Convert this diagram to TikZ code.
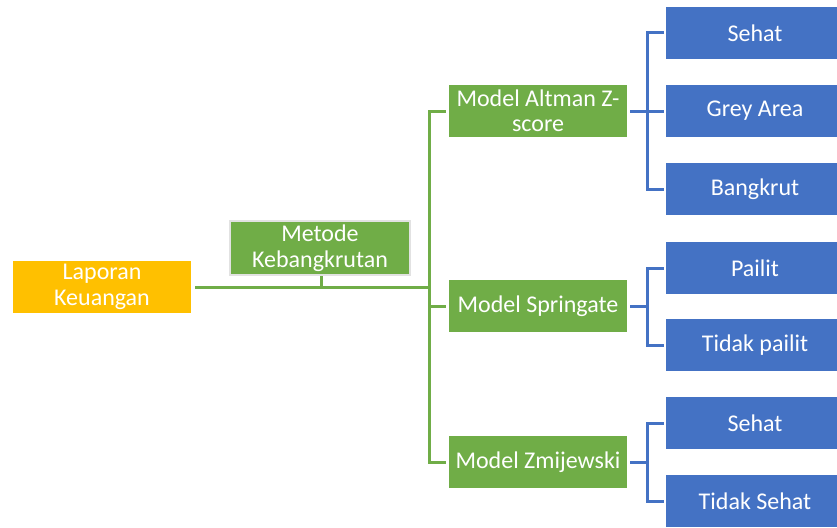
\documentclass[tikz,border=0pt]{standalone}
\usepackage{fontspec}
\setmainfont{Carlito}
\definecolor{orangebox}{HTML}{FFC000}
\definecolor{greenbox}{HTML}{70AD47}
\definecolor{bluebox}{HTML}{4472C4}
\definecolor{paleedge}{HTML}{E2E2E2}
\begin{document}
\begin{tikzpicture}[x=1pt,y=-1pt,
  box/.style={rectangle,inner sep=0pt,minimum width=178pt,minimum height=52pt,
    text=white,align=center,font=\fontsize{24}{25.5}\selectfont},
  rootbox/.style={box,fill=orangebox},
  methodbox/.style={box,fill=greenbox,draw=paleedge,line width=2pt,minimum width=180pt,minimum height=54pt},
  modelbox/.style={box,fill=greenbox},
  resultbox/.style={box,fill=bluebox},
  gline/.style={draw=greenbox,line width=3pt},
  bline/.style={draw=bluebox,line width=3pt}]
\useasboundingbox (0,0) rectangle (837,527);

% boxes
\node[rootbox]   (lap)    at (102,287) {Laporan\\Keuangan};
\node[methodbox] (metode) at (320,248) {Metode\\Kebangkrutan};
\node[modelbox]  (altman) at (538,111) {Model Altman Z-\\score};
\node[modelbox]  (spring) at (538,306) {Model Springate};
\node[modelbox]  (zmij)   at (538,462) {Model Zmijewski};

\node[resultbox] (a1) at (755,33)  {Sehat};
\node[resultbox] (a2) at (755,111) {Grey Area};
\node[resultbox] (a3) at (755,189) {Bangkrut};
\node[resultbox] (s1) at (755,268) {Pailit};
\node[resultbox] (s2) at (755,345) {Tidak pailit};
\node[resultbox] (z1) at (755,423) {Sehat};
\node[resultbox] (z2) at (755,501) {Tidak Sehat};

% green trunk
\coordinate (trunk) at (429,287);
\coordinate (tick)  at (321,287);
\draw[gline] ([xshift=4pt]lap.east) -- (trunk);
\draw[gline] (metode.south -| tick) -- (tick);
\draw[gline] (trunk) |- ([xshift=-3pt]altman.west);
\draw[gline] (trunk) |- ([xshift=-3pt]spring.west);
\draw[gline] (trunk) |- ([xshift=-3pt]zmij.west);

% blue branches
\coordinate (ba) at (647,111);
\coordinate (bs) at (647,306);
\coordinate (bz) at (647,462);
\draw[bline] ([xshift=3pt]altman.east) -- (ba);
\draw[bline] (ba) |- ([xshift=-2pt]a1.west);
\draw[bline] (ba) -- ([xshift=-2pt]a2.west);
\draw[bline] (ba) |- ([xshift=-2pt]a3.west);
\draw[bline] ([xshift=3pt]spring.east) -- (bs);
\draw[bline] (bs) |- ([xshift=-2pt]s1.west);
\draw[bline] (bs) |- ([xshift=-2pt]s2.west);
\draw[bline] ([xshift=3pt]zmij.east) -- (bz);
\draw[bline] (bz) |- ([xshift=-2pt]z1.west);
\draw[bline] (bz) |- ([xshift=-2pt]z2.west);
\end{tikzpicture}
\end{document}
